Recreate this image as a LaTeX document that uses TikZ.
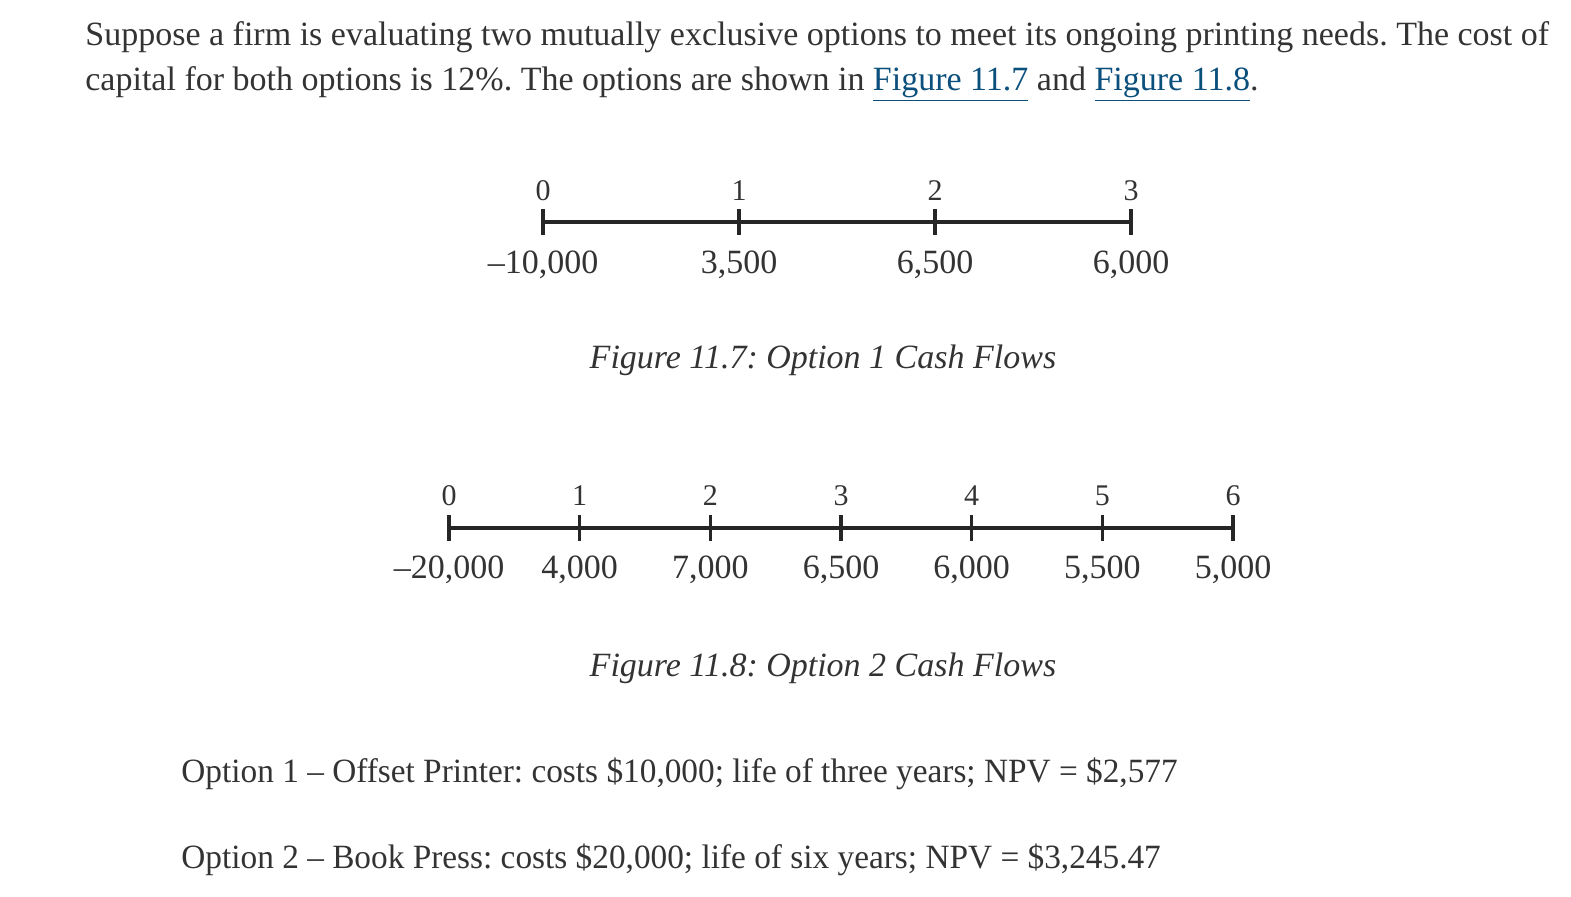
\documentclass[tikz,border=0pt]{standalone}
\usepackage{fontspec}
\setmainfont{Liberation Serif}
\newfontfamily\bodyfont{Liberation Serif}
\newfontfamily\optfont[FakeStretch=0.98]{Liberation Serif}
\definecolor{ink}{HTML}{333333}
\definecolor{linkblue}{HTML}{0B4F7C}
\newcommand{\figlink}[1]{\textcolor{linkblue}{\underline{#1}}}
\frenchspacing

\begin{document}
\begin{tikzpicture}[
  x = 0.5pt,
  y = -0.5pt,
  bodytext/.style  = {anchor=base west, inner sep=0pt, text=ink,
                      font=\bodyfont\fontsize{17}{20}\selectfont},
  opttext/.style   = {anchor=base west, inner sep=0pt, text=ink,
                      font=\optfont\fontsize{17}{20}\selectfont},
  yearlabel/.style = {anchor=base, inner sep=0pt, text=ink,
                      font=\fontsize{15}{18}\selectfont},
  flowlabel/.style = {anchor=base, inner sep=0pt, text=ink,
                      font=\fontsize{17}{20}\selectfont},
  figcaption/.style = {anchor=base, inner sep=0pt, text=ink,
                      font=\itshape\fontsize{17}{20}\selectfont},
  axisline/.style  = {draw=black!85, line width=1.6pt}
]
  \useasboundingbox (0,0) rectangle (1571,896);

  % introduction
  \node[bodytext] (body1) at (85,45)
    {Suppose a firm is evaluating two mutually exclusive options to meet its ongoing printing needs. The cost of};
  \node[bodytext] (body2) at (85,90)
    {capital for both options is 12\%. The options are shown in \figlink{Figure 11.7} and \figlink{Figure 11.8}.};

  % option 1 time line
  \foreach \t/\cf in {0/{–10,000},1/{3,500},2/{6,500},3/{6,000}}{
    \coordinate (ta\t) at ({543+196*\t},222);
    \node[yearlabel] (ya\t) at ({543+196*\t},200) {\t};
    \node[flowlabel] (fa\t) at ({543+196*\t},273) {\cf};
    \draw[axisline] (ta\t) ++(0,-13) -- ++(0,26);
  }
  \draw[axisline] (ta0) -- (ta3);
  \node[figcaption] (cap1) at (823,368) {Figure 11.7: Option 1 Cash Flows};

  % option 2 time line
  \foreach \t/\cf in {0/{–20,000},1/{4,000},2/{7,000},3/{6,500},4/{6,000},5/{5,500},6/{5,000}}{
    \coordinate (tb\t) at ({449+130.67*\t},528);
    \node[yearlabel] (yb\t) at ({449+130.67*\t},505) {\t};
    \node[flowlabel] (fb\t) at ({449+130.67*\t},578) {\cf};
    \draw[axisline] (tb\t) ++(0,-13) -- ++(0,26);
  }
  \draw[axisline] (tb0) -- (tb6);
  \node[figcaption] (cap2) at (823,676) {Figure 11.8: Option 2 Cash Flows};

  % summary
  \node[opttext] (opt1) at (181,782)
    {Option 1 – Offset Printer: costs \$10,000; life of three years; NPV = \$2,577};
  \node[opttext] (opt2) at (181,868)
    {Option 2 – Book Press: costs \$20,000; life of six years; NPV = \$3,245.47};
\end{tikzpicture}
\end{document}
